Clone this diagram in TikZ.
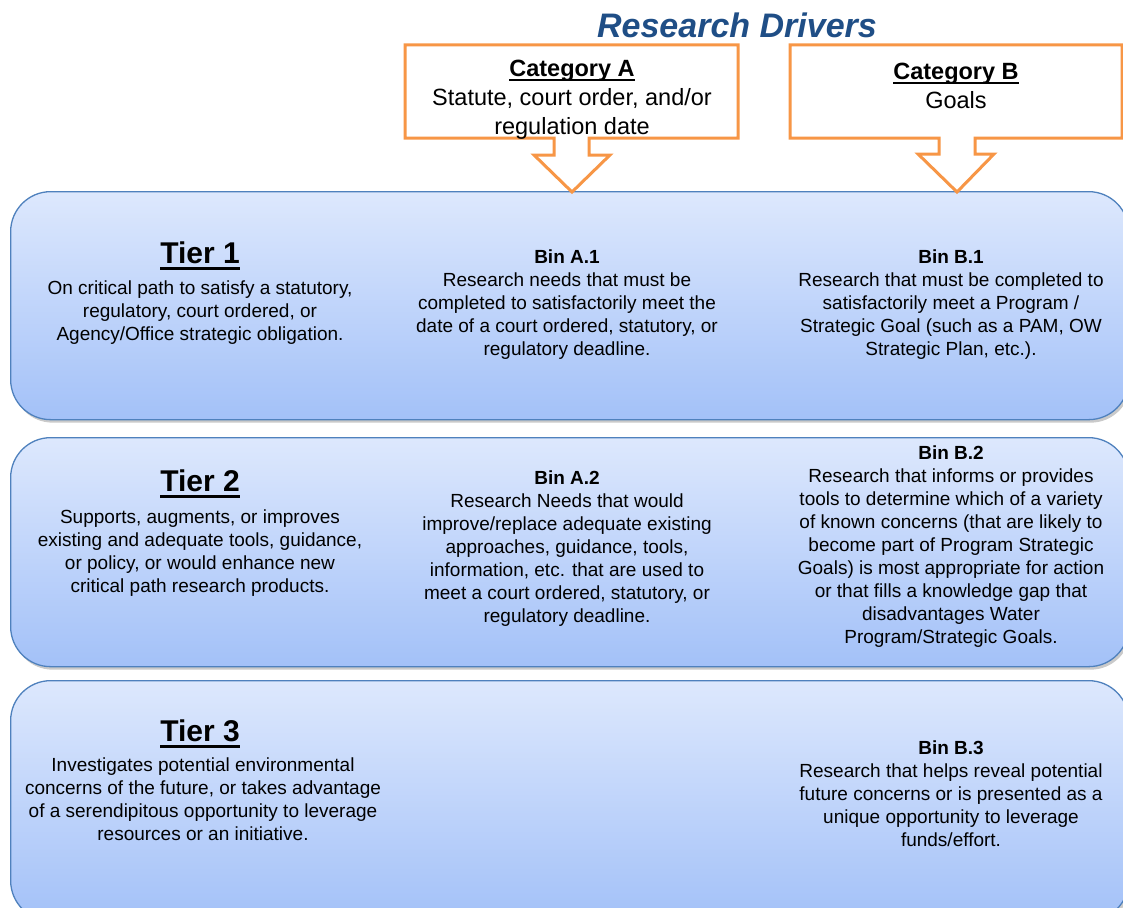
\documentclass[tikz,border=0pt]{standalone}
\usepackage{fontspec}
\setmainfont{Liberation Sans}
\usepackage{tikz}
\usetikzlibrary{shadows}
\usepackage{xcolor}
\definecolor{calloutorange}{HTML}{F79646}
\definecolor{tierborder}{HTML}{4F81BD}
\definecolor{tiertop}{HTML}{DDE8FD}
\definecolor{tierbottom}{HTML}{A3C1F8}
\definecolor{titleblue}{HTML}{1F4E86}
\newcommand{\ulineby}[3]{\setbox0=\hbox{#3}\rlap{\rule[-#1]{\wd0}{#2}}\box0}
\newcommand{\thickul}[1]{\ulineby{6pt}{2.6pt}{#1}}
\newcommand{\thinul}[1]{\ulineby{4.5pt}{2pt}{#1}}

\begin{document}
\begin{tikzpicture}[x=1pt,y=-1pt,
  tierbox/.style={draw=tierborder,line width=1.3pt,rounded corners=40pt,
    top color=tiertop,bottom color=tierbottom,anchor=north west,
    drop shadow={shadow xshift=2pt,shadow yshift=-3pt,fill=black!35,opacity=0.6}},
  callout/.style={draw=calloutorange,line width=3pt,fill=white},
  tierhead/.style={font=\fontsize{30}{34}\selectfont\bfseries},
  bodytext/.style={align=center,inner sep=0pt,font=\fontsize{19}{23}\selectfont},
  cattext/.style={align=center,inner sep=0pt,font=\fontsize{23.5}{29}\selectfont}]

\useasboundingbox (0,0) rectangle (1123,907);
\clip (0,0) rectangle (1123,907);

\node[tierbox,minimum width=1118pt,minimum height=228pt] (tier1) at (10,191) {};
\node[tierbox,minimum width=1118pt,minimum height=229pt] (tier2) at (10,437) {};
\node[tierbox,minimum width=1118pt,minimum height=240pt] (tier3) at (10,680) {};

\draw[callout] (405,45) -- (738,45) -- (738,138) -- (589,138) -- (589,155) -- (610,155)
  -- (572,192) -- (534,155) -- (554,155) -- (554,138) -- (405,138) -- cycle;
\draw[callout] (790,45) -- (1122,45) -- (1122,138) -- (975,138) -- (975,154) -- (994,154)
  -- (957,192) -- (918,154) -- (939,154) -- (939,138) -- (790,138) -- cycle;

\node[font=\fontsize{34}{38}\selectfont\bfseries\itshape,text=titleblue] (title) at (737,25) {Research Drivers};
\node[cattext] (catA) at (572,99.5) {\textbf{\thinul{Category A}}\\Statute, court order, and/or\\regulation date};
\node[cattext] (catB) at (956,85.5) {\textbf{\thinul{Category B}}\\Goals};

\node[tierhead] (tier1head) at (200,256) {\thickul{Tier 1}};
\node[bodytext] (tier1text) at (200,313) {On critical path to satisfy a statutory,\\regulatory, court ordered, or\\Agency/Office strategic obligation.};
\node[bodytext] (binA1) at (567,305) {\textbf{Bin A.1}\\Research needs that must be\\completed to satisfactorily meet the\\date of a court ordered, statutory, or\\regulatory deadline.};
\node[bodytext] (binB1) at (951,305) {\textbf{Bin B.1}\\Research that must be completed to\\satisfactorily meet a Program /\\Strategic Goal (such as a PAM, OW\\Strategic Plan, etc.).};

\node[tierhead] (tier2head) at (200,484) {\thickul{Tier 2}};
\node[bodytext] (tier2text) at (200,553) {Supports, augments, or improves\\existing and adequate tools, guidance,\\or policy, or would enhance new\\critical path research products.};
\node[bodytext] (binA2) at (567,549) {\textbf{Bin A.2}\\Research Needs that would\\improve/replace adequate existing\\approaches, guidance, tools,\\information, etc. that are used to\\meet a court ordered, statutory, or\\regulatory deadline.};
\node[bodytext] (binB2) at (951,547) {\textbf{Bin B.2}\\Research that informs or provides\\tools to determine which of a variety\\of known concerns (that are likely to\\become part of Program Strategic\\Goals) is most appropriate for action\\or that fills a knowledge gap that\\disadvantages Water\\Program/Strategic Goals.};

\node[tierhead] (tier3head) at (200,734) {\thickul{Tier 3}};
\node[bodytext] (tier3text) at (203,799) {Investigates potential environmental\\concerns of the future, or takes advantage\\of a serendipitous opportunity to leverage\\resources or an initiative.};
\node[bodytext] (binB3) at (951,794) {\textbf{Bin B.3}\\Research that helps reveal potential\\future concerns or is presented as a\\unique opportunity to leverage\\funds/effort.};
\end{tikzpicture}
\end{document}
